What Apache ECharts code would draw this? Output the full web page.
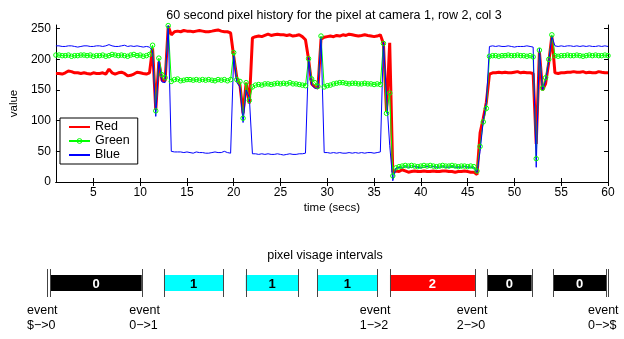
<!DOCTYPE html>
<html>
<head>
<meta charset="utf-8">
<script src="https://cdn.jsdelivr.net/npm/echarts@6/dist/echarts.min.js"></script>
<style>
html, body { margin: 0; padding: 0; background: #fff; }
#main { width: 624px; height: 339px; }
</style>
</head>
<body>
<div id="main"></div>
<script>
// sample times (secs), 3 frames per second
var times = [
    1,1.33,1.67,2,2.33,2.67,3,3.33,3.67,4,4.33,4.67,5,5.33,5.67,6,6.33,6.67,7,7.33,7.67,8,8.33,8.67,9,9.33,9.67,10,10.33,10.67,
    11,11.33,11.67,12,12.33,12.67,13,13.33,13.67,14,14.33,14.67,15,15.33,15.67,16,16.33,16.67,17,17.33,17.67,18,18.33,18.67,19,19.33,19.67,20,20.33,20.67,
    21,21.33,21.67,22,22.33,22.67,23,23.33,23.67,24,24.33,24.67,25,25.33,25.67,26,26.33,26.67,27,27.33,27.67,28,28.33,28.67,29,29.33,29.67,30,30.33,30.67,
    31,31.33,31.67,32,32.33,32.67,33,33.33,33.67,34,34.33,34.67,35,35.33,35.67,36,36.33,36.67,37,37.33,37.67,38,38.33,38.67,39,39.33,39.67,40,40.33,40.67,
    41,41.33,41.67,42,42.33,42.67,43,43.33,43.67,44,44.33,44.67,45,45.33,45.67,46,46.33,46.67,47,47.33,47.67,48,48.33,48.67,49,49.33,49.67,50,50.33,50.67,
    51,51.33,51.67,52,52.33,52.67,53,53.33,53.67,54,54.33,54.67,55,55.33,55.67,56,56.33,56.67,57,57.33,57.67,58,58.33,58.67,59,59.33,59.67,60
];
var red = [
    177,177,176,178,181,180,178,178,177,178,177,176,178,177,177,178,176,184,178,176,178,179,177,173,174,176,179,178,177,176,
    178,218,118,196,166,165,254,240,245,246,245,247,246,246,245,246,247,246,245,245,246,247,248,246,245,245,243,205,170,158,
    112,162,128,235,237,238,237,239,241,239,240,241,240,240,239,240,238,239,240,237,232,200,160,155,153,233,236,237,238,237,
    239,238,240,239,241,240,239,238,239,240,239,238,237,238,240,226,115,227,16,18,17,20,18,16,17,18,17,17,18,17,
    17,18,17,17,18,18,17,17,16,17,17,18,17,16,16,12,80,104,130,176,178,178,179,178,179,178,178,179,180,178,
    179,178,178,177,62,212,150,160,195,238,178,177,178,178,179,179,180,179,179,180,178,179,178,178,180,179,178,178
];
var green = [
    207,207,206,206,207,205,206,206,207,207,206,207,205,206,206,207,205,206,208,207,206,207,206,205,207,208,206,207,205,206,
    208,223,116,202,175,170,255,164,167,168,165,166,167,167,166,167,166,167,166,167,166,165,167,166,167,165,167,211,167,164,
    104,162,133,155,158,159,158,160,160,159,160,161,160,161,160,162,160,160,159,158,157,201,168,162,156,238,155,157,158,160,
    161,162,162,161,160,161,161,160,160,161,160,160,159,160,159,226,112,145,10,23,25,26,27,26,27,26,25,26,27,26,
    27,26,25,26,27,26,26,27,26,25,26,26,25,26,25,18,58,98,120,205,206,206,205,206,206,207,206,206,207,206,
    206,205,206,204,38,215,153,170,200,240,206,205,206,206,207,206,206,207,206,205,206,207,206,207,206,206,207,206
];
var blue = [
    222,222,221,221,222,222,221,220,221,222,222,221,221,222,222,221,222,224,222,221,221,222,223,221,222,221,222,221,220,221,
    220,214,107,197,163,162,255,50,49,49,49,48,49,48,47,49,48,48,47,47,48,49,48,48,50,48,47,206,162,155,
    97,150,138,46,46,45,46,45,46,45,45,46,45,44,45,46,45,45,46,46,47,203,158,153,152,236,48,48,47,48,
    47,48,47,47,48,47,48,47,48,47,48,48,47,48,49,228,140,60,2,22,24,23,25,24,24,25,24,23,24,25,
    24,25,24,24,25,24,24,25,24,24,24,25,24,24,23,15,50,100,130,221,222,221,222,221,221,222,221,220,221,221,
    221,222,221,220,24,218,150,165,197,238,222,221,222,221,222,222,221,222,221,222,221,222,221,221,222,221,222,221
];
var xTicks = [5, 10, 15, 20, 25, 30, 35, 40, 45, 50, 55, 60];
var yTicks = [0, 50, 100, 150, 200, 250];

// pixel visage intervals
var intervalStart = [1.35, 13.3, 21.9, 29.43, 37.07, 47.3, 54.24];
var intervalEnd = [10.96, 19.54, 27.43, 35.74, 46.01, 51.97, 59.79];
var intervalState = [0, 1, 1, 1, 2, 0, 0];
var recordEdges = [1, 60.05];
var eventTimes = [1, 11.76, 36.0, 46.2, 60];
var eventNames = ['$\u2212>0', '0\u2212>1', '1\u2212>2', '2\u2212>0', '0\u2212>$'];

var stateColor = ['#000000', '#00ffff', '#ff0000'];
var stateTextColor = ['#ffffff', '#000000', '#ffffff'];
var FONT = '"Liberation Sans", Arial, sans-serif';

function pairs(xs, ys) {
    return xs.map(function (x, i) { return [x, ys[i]]; });
}

var edgeData = [];
intervalStart.forEach(function (t) { edgeData.push([t]); });
intervalEnd.forEach(function (t) { edgeData.push([t]); });
recordEdges.forEach(function (t) { edgeData.push([t]); });

var intervalData = intervalStart.map(function (s, i) {
    return [s, intervalEnd[i], intervalState[i]];
});
var eventData = eventTimes.map(function (t, i) { return [t, i]; });

var myChart = echarts.init(document.getElementById('main'));

var boxAxis = {
    axisLine: { show: true, lineStyle: { color: '#000', width: 1 } },
    splitLine: { show: false }
};

// hollow green marker, thin ring
var greenMarker = { color: 'rgba(255,255,255,0)', borderColor: '#00ff00', borderWidth: 1 };

var option = {
    animation: false,
    backgroundColor: '#fff',
    textStyle: { fontFamily: FONT },
    title: [
        {
            text: '60 second pixel history for the pixel at camera 1, row 2, col 3',
            left: 329, top: 4, textAlign: 'center',
            textStyle: { fontSize: 12.5, fontWeight: 'normal', color: '#000', fontFamily: FONT }
        },
        {
            text: 'pixel visage intervals',
            left: 320, top: 244, textAlign: 'center',
            textStyle: { fontSize: 12.5, fontWeight: 'normal', color: '#000', fontFamily: FONT }
        }
    ],
    grid: [
        { left: 47, right: 16, top: 25, bottom: 157 },
        { left: 47, right: 16, top: 269, height: 28 }
    ],
    legend: {
        data: [
            { name: 'Red', itemStyle: { opacity: 0 } },
            { name: 'Green', itemStyle: greenMarker },
            { name: 'Blue', itemStyle: { opacity: 0 } }
        ],
        orient: 'vertical',
        left: 60, top: 118,
        padding: [2, 8, 2, 8],
        itemWidth: 21, itemHeight: 6, itemGap: 0,
        backgroundColor: '#fff',
        borderColor: '#000', borderWidth: 1,
        textStyle: { fontSize: 12.5, lineHeight: 14, color: '#000', fontFamily: FONT }
    },
    xAxis: [
        Object.assign({
            type: 'value', gridIndex: 0, min: 1, max: 60,
            name: 'time (secs)', nameLocation: 'middle', nameGap: 20,
            nameTextStyle: { fontSize: 11.5, color: '#000', fontFamily: FONT },
            axisTick: { inside: true, length: 4, customValues: xTicks, lineStyle: { color: '#000' } },
            axisLabel: { margin: 5, fontSize: 12, color: '#000', customValues: xTicks, fontFamily: FONT }
        }, boxAxis),
        Object.assign({
            type: 'value', gridIndex: 0, min: 1, max: 60, position: 'top',
            axisTick: { inside: true, length: 4, customValues: xTicks, lineStyle: { color: '#000' } },
            axisLabel: { show: false }
        }, boxAxis),
        { type: 'value', gridIndex: 1, min: 1, max: 60, show: false }
    ],
    yAxis: [
        Object.assign({
            type: 'value', gridIndex: 0, min: 0, max: 256,
            name: 'value', nameLocation: 'middle', nameGap: 33,
            nameTextStyle: { fontSize: 11.5, color: '#000', fontFamily: FONT },
            axisTick: { inside: true, length: 4, customValues: yTicks, lineStyle: { color: '#000' } },
            axisLabel: { margin: 5, fontSize: 12, color: '#000', customValues: yTicks, fontFamily: FONT }
        }, boxAxis),
        Object.assign({
            type: 'value', gridIndex: 0, min: 0, max: 256, position: 'right',
            axisTick: { inside: true, length: 4, customValues: yTicks, lineStyle: { color: '#000' } },
            axisLabel: { show: false }
        }, boxAxis),
        { type: 'value', gridIndex: 1, min: 0, max: 1, show: false }
    ],
    series: [
        {
            name: 'Red', type: 'line', xAxisIndex: 0, yAxisIndex: 0,
            data: pairs(times, red),
            symbol: 'none',
            itemStyle: { color: '#ff0000' },
            lineStyle: { color: '#ff0000', width: 3 }
        },
        {
            name: 'Green', type: 'line', xAxisIndex: 0, yAxisIndex: 0,
            data: pairs(times, green),
            symbol: 'circle', symbolSize: 4.5, showAllSymbol: true,
            itemStyle: greenMarker,
            lineStyle: { color: '#00ff00', width: 1 }
        },
        {
            name: 'Blue', type: 'line', xAxisIndex: 0, yAxisIndex: 0,
            data: pairs(times, blue),
            symbol: 'none',
            itemStyle: { color: '#0000ff' },
            lineStyle: { color: '#0000ff', width: 1 }
        },
        {
            // interval bars
            type: 'custom', xAxisIndex: 2, yAxisIndex: 2, clip: false,
            data: intervalData,
            renderItem: function (params, api) {
                var s = api.coord([api.value(0), 0.786]);
                var e = api.coord([api.value(1), 0.214]);
                var st = api.value(2);
                return {
                    type: 'group',
                    children: [
                        { type: 'rect', shape: { x: s[0], y: s[1], width: e[0] - s[0], height: e[1] - s[1] },
                          style: { fill: stateColor[st] } },
                        { type: 'text', style: { text: String(st), x: (s[0] + e[0]) / 2, y: (s[1] + e[1]) / 2 + 1,
                          align: 'center', verticalAlign: 'middle', fill: stateTextColor[st],
                          fontSize: 13, fontWeight: 'bold', fontFamily: FONT } }
                    ]
                };
            }
        },
        {
            // boundary ticks
            type: 'custom', xAxisIndex: 2, yAxisIndex: 2, clip: false,
            data: edgeData,
            renderItem: function (params, api) {
                var p0 = api.coord([api.value(0), 0]);
                var p1 = api.coord([api.value(0), 1]);
                var x = Math.round(p0[0]) + 0.5;
                return { type: 'line', shape: { x1: x, y1: p0[1], x2: x, y2: p1[1] },
                         style: { stroke: '#444', lineWidth: 1 } };
            }
        },
        {
            // event labels
            type: 'custom', xAxisIndex: 2, yAxisIndex: 2, clip: false,
            data: eventData,
            renderItem: function (params, api) {
                var p = api.coord([api.value(0), 0]);
                return { type: 'text', style: { text: 'event\n' + eventNames[api.value(1)],
                         x: p[0] - 20, y: p[1] + 6, align: 'left', verticalAlign: 'top',
                         lineHeight: 15, fontSize: 12.5, fill: '#000', fontFamily: FONT } };
            }
        }
    ]
};

myChart.setOption(option);
window.addEventListener('resize', function () { myChart.resize(); });
</script>
</body>
</html>
